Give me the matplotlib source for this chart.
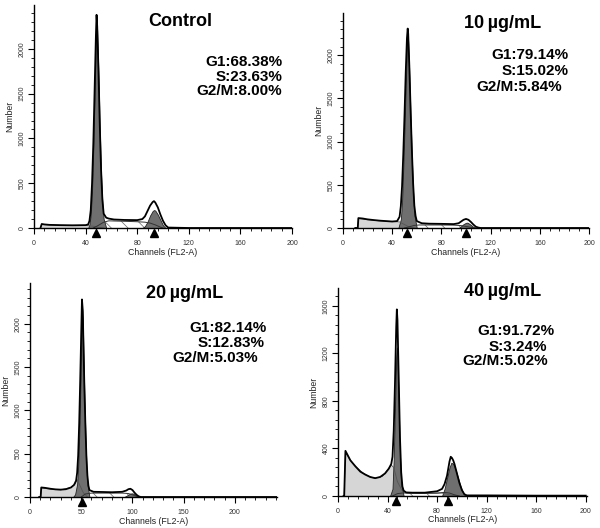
import numpy as np
import matplotlib
matplotlib.use("Agg")
import matplotlib.pyplot as plt
from matplotlib.ticker import MultipleLocator
import matplotlib.transforms as mtransforms

plt.rcParams["font.family"] = ["Liberation Sans", "DejaVu Sans"]
plt.rcParams["hatch.linewidth"] = 0.5

# ---- Control ----
ctrl_total_ch = [5, 6, 8, 12, 20, 30, 40, 42, 43, 44, 45, 46, 47, 48, 48.5, 49, 50, 51, 52, 53, 54, 56, 58,
                 62, 70, 80, 84, 86, 88, 90, 92, 93, 94, 96, 98, 100, 102, 104, 120, 160, 200]
ctrl_total = [0, 45, 40, 35, 32, 30, 32, 40, 80, 200, 500, 950, 1550, 2150, 2380, 2250, 1750, 1150, 650, 320,
              160, 115, 105, 95, 90, 88, 100, 130, 190, 250, 290, 300, 285, 230, 150, 80, 30, 5, 0, 0, 0]
ctrl_g1_ch = [42, 43, 44, 45, 46, 47, 48, 48.5, 49, 50, 51, 52, 53, 54, 56]
ctrl_g1 = [0, 40, 150, 420, 900, 1500, 2100, 2330, 2200, 1700, 1100, 600, 280, 100, 0]
ctrl_s_ch = [46, 50, 54, 58, 70, 80, 86, 90, 94, 98, 100]
ctrl_s = [0, 30, 65, 80, 75, 70, 65, 55, 35, 10, 0]
ctrl_g2_ch = [84, 86, 88, 90, 92, 93, 94, 96, 98, 100, 102]
ctrl_g2 = [0, 20, 70, 140, 190, 200, 195, 150, 90, 30, 0]
ctrl_deb_ch = [5, 6, 10, 20, 30, 40, 46, 50, 54]
ctrl_deb = [0, 40, 35, 30, 28, 28, 20, 8, 0]
ctrl_marks = [48, 93]
ctrl_stats = ["G1:68.38%", "S:23.63%", "G2/M:8.00%"]

# ---- 10 ug/mL ----
d10_total_ch = [10, 12, 12.5, 16, 20, 25, 30, 35, 40, 44, 46, 47, 48, 49, 50, 51, 52, 52.6, 53, 54, 55, 56,
                57, 58, 59, 60, 64, 70, 80, 90, 94, 96, 98, 100, 102, 104, 106, 108, 110, 112, 200]
d10_total = [0, 0, 115, 110, 100, 92, 85, 80, 75, 80, 130, 250, 480, 850, 1300, 1800, 2200, 2310, 2250, 1850,
             1350, 900, 520, 260, 140, 80, 55, 50, 48, 45, 55, 75, 95, 105, 95, 70, 40, 15, 5, 0, 0]
d10_g1_ch = [45, 47, 48, 49, 50, 51, 52, 52.6, 53, 54, 55, 56, 57, 58, 60]
d10_g1 = [0, 100, 300, 700, 1150, 1650, 2100, 2250, 2150, 1750, 1250, 800, 420, 150, 0]
d10_s_ch = [50, 54, 58, 62, 70, 80, 90, 96, 100, 104, 108]
d10_s = [0, 15, 30, 35, 35, 35, 33, 28, 18, 8, 0]
d10_g2_ch = [94, 96, 98, 100, 101, 102, 104, 106, 108]
d10_g2 = [0, 20, 45, 60, 62, 55, 35, 12, 0]
d10_deb_ch = [12, 12.5, 20, 30, 40, 46, 50, 54, 58]
d10_deb = [0, 110, 95, 82, 75, 70, 40, 10, 0]
d10_marks = [52, 100]
d10_stats = ["G1:79.14%", "S:15.02%", "G2/M:5.84%"]

# ---- 20 ug/mL ----
d20_total_ch = [9, 10.4, 11, 15, 20, 25, 30, 35, 40, 43, 45, 46, 47, 48, 49, 50, 50.7, 51.5, 52, 53, 54, 55,
                56, 57, 58, 62, 70, 80, 90, 94, 96, 98, 100, 102, 104, 106, 108, 241]
d20_total = [0, 0, 110, 105, 95, 88, 85, 90, 110, 140, 190, 280, 480, 850, 1350, 1900, 2280, 2150, 1850, 1300,
             850, 480, 250, 130, 80, 60, 58, 55, 60, 75, 90, 95, 80, 50, 25, 8, 0, 0]
d20_g1_ch = [42, 44, 46, 47, 48, 49, 50, 50.7, 51.5, 52, 53, 54, 55, 56, 58]
d20_g1 = [0, 30, 150, 350, 700, 1200, 1800, 2200, 2050, 1750, 1200, 750, 380, 150, 0]
d20_s_ch = [50, 54, 60, 70, 80, 90, 96, 100, 104, 108]
d20_s = [0, 35, 45, 45, 45, 45, 40, 25, 8, 0]
d20_g2_ch = [92, 95, 98, 100, 102, 104, 106]
d20_g2 = [0, 20, 40, 42, 30, 10, 0]
d20_deb_ch = [10.4, 11, 20, 30, 40, 44, 46, 48, 52, 56]
d20_deb = [0, 105, 90, 82, 110, 150, 200, 150, 50, 0]
d20_marks = [51]
d20_stats = ["G1:82.14%", "S:12.83%", "G2/M:5.03%"]

# ---- 40 ug/mL ----
d40_total_ch = [4.5, 5, 6, 8, 10, 14, 18, 22, 26, 30, 34, 38, 41, 43, 44, 45, 46, 47, 47.5, 48, 49, 50, 51,
                52, 53, 55, 60, 70, 80, 84, 86, 88, 89, 90, 91, 92, 93, 94, 96, 98, 100, 102, 104, 120, 160, 200]
d40_total = [0, 0, 380, 340, 300, 250, 205, 180, 160, 150, 160, 190, 230, 270, 330, 550, 950, 1420, 1570,
             1480, 1000, 500, 200, 80, 45, 30, 28, 28, 40, 60, 100, 170, 230, 290, 330, 320, 300, 270, 190, 110,
             50, 15, 5, 5, 3, 3]
d40_g1_ch = [42, 44, 45, 46, 47, 47.5, 48, 49, 50, 51, 53]
d40_g1 = [0, 60, 320, 750, 1170, 1250, 1180, 780, 360, 100, 0]
d40_s_ch = [44, 48, 52, 60, 70, 80, 86, 90, 94, 98]
d40_s = [0, 20, 25, 25, 25, 25, 30, 25, 10, 0]
d40_g2_ch = [84, 86, 88, 90, 91.5, 93, 95, 97, 99, 101, 103]
d40_g2 = [0, 60, 150, 240, 280, 270, 220, 150, 80, 25, 0]
d40_deb_ch = [5, 6, 10, 14, 20, 26, 30, 36, 40, 43, 45, 48, 52, 56, 70, 84, 90, 96]
d40_deb = [0, 370, 300, 250, 195, 160, 150, 165, 220, 260, 240, 120, 40, 25, 20, 25, 10, 0]
d40_marks = [47, 89]
d40_stats = ["G1:91.72%", "S:3.24%", "G2/M:5.02%"]

W, H = 600, 528
fig = plt.figure(figsize=(6, 5.28), dpi=100)


def px_axes(l, r, b, t):
    return fig.add_axes([l / W, 1 - b / H, (r - l) / W, (b - t) / H])


def draw(ax, tot_ch, tot, g1_ch, g1, s_ch, s, g2_ch, g2, deb_ch, deb, marks,
         xmax, ymax, xmaj, xmin, ymaj, ymin):
    ax.fill_between(deb_ch, deb, color="#d6d6d6", lw=0)
    ax.plot(deb_ch, deb, color="#555555", lw=0.6)
    ax.fill_between(s_ch, s, facecolor="white", edgecolor="#666666", hatch="\\\\", lw=0)
    ax.plot(s_ch, s, color="#333333", lw=0.7)
    ax.fill_between(g1_ch, g1, facecolor="#6f6f6f", edgecolor="#222222", lw=0.6)
    ax.fill_between(g2_ch, g2, facecolor="#6f6f6f", edgecolor="#222222", lw=0.6)
    ax.plot(tot_ch, tot, color="black", lw=1.3)
    trans = mtransforms.blended_transform_factory(ax.transData, ax.transAxes)
    ax.plot(marks, [-0.022] * len(marks), "^", color="black", ms=6, transform=trans, clip_on=False)
    ax.set_xlim(0, xmax)
    ax.set_ylim(0, ymax)
    ax.xaxis.set_major_locator(MultipleLocator(xmaj))
    ax.xaxis.set_minor_locator(MultipleLocator(xmin))
    ax.yaxis.set_major_locator(MultipleLocator(ymaj))
    ax.yaxis.set_minor_locator(MultipleLocator(ymin))
    for sp in ["top", "right"]:
        ax.spines[sp].set_visible(False)
    for sp in ["left", "bottom"]:
        ax.spines[sp].set_linewidth(1.0)
    ax.tick_params(which="major", length=4, width=0.8, labelsize=5, pad=2, direction="out",
                   labelcolor="#333333")
    ax.tick_params(which="minor", length=2.5, width=0.6, direction="out")
    ax.tick_params(axis="x", pad=4.5)
    for lab in ax.get_yticklabels():
        lab.set_rotation(90)
        lab.set_va("center")
    ax.set_xlabel("Channels (FL2-A)", fontsize=6.3, labelpad=0.5, color="#222222")
    ax.set_ylabel("Number", fontsize=6.3, labelpad=3, color="#222222")


ax1 = px_axes(34, 292, 228, 5)
draw(ax1, ctrl_total_ch, ctrl_total, ctrl_g1_ch, ctrl_g1, ctrl_s_ch, ctrl_s, ctrl_g2_ch, ctrl_g2,
     ctrl_deb_ch, ctrl_deb, ctrl_marks, 200, 2490, 40, 8, 500, 100)
ax2 = px_axes(343, 589, 228, 13)
draw(ax2, d10_total_ch, d10_total, d10_g1_ch, d10_g1, d10_s_ch, d10_s, d10_g2_ch, d10_g2,
     d10_deb_ch, d10_deb, d10_marks, 200, 2490, 40, 8, 500, 100)
ax3 = px_axes(30, 277, 497, 283)
draw(ax3, d20_total_ch, d20_total, d20_g1_ch, d20_g1, d20_s_ch, d20_s, d20_g2_ch, d20_g2,
     d20_deb_ch, d20_deb, d20_marks, 241, 2470, 50, 10, 500, 100)
ax4 = px_axes(338, 587, 496, 288)
draw(ax4, d40_total_ch, d40_total, d40_g1_ch, d40_g1, d40_s_ch, d40_s, d40_g2_ch, d40_g2,
     d40_deb_ch, d40_deb, d40_marks, 201, 1750, 40, 8, 400, 80)


def ftext(x, y, s, size, ha):
    fig.text(x / W, 1 - y / H, s, fontsize=size, fontweight="bold", ha=ha, va="center")


# titles and phase percentages, positioned in pixels
ftext(180, 22, "Control", 13, "center")
ftext(503, 24, "10\u2009µg/mL", 13, "center")
ftext(185, 293, "20\u2009µg/mL", 13, "center")
ftext(503, 292, "40\u2009µg/mL", 13, "center")

for (x, y), s in zip([(282, 62), (282, 77), (282, 91)], ctrl_stats):
    ftext(x, y, s, 11, "right")
for (x, y), s in zip([(569, 55), (569, 71), (562, 87)], d10_stats):
    ftext(x, y, s, 11, "right")
for (x, y), s in zip([(267, 328), (265, 343), (258, 358)], d20_stats):
    ftext(x, y, s, 11, "right")
for (x, y), s in zip([(555, 331), (547, 347), (548, 361)], d40_stats):
    ftext(x, y, s, 11, "right")

fig.savefig("out.png", dpi=100)
